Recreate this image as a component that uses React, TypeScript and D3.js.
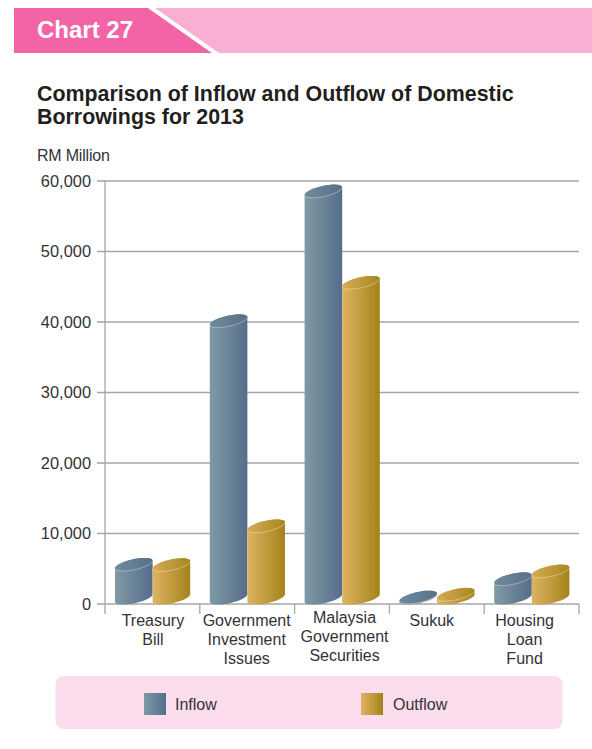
import React from "react";
import * as d3 from "d3";

const categories = [
  ["Treasury", "Bill"],
  ["Government", "Investment", "Issues"],
  ["Malaysia", "Government", "Securities"],
  ["Sukuk"],
  ["Housing", "Loan", "Fund"],
];
const inflow = [4750, 39300, 57700, 100, 2700];
const outflow = [4700, 10200, 44750, 500, 3800];
const yTicks = [0, 10000, 20000, 30000, 40000, 50000, 60000];
const seriesNames = ["Inflow", "Outflow"];

const W = 592, H = 749;
const FONT = "'Liberation Sans', Arial, sans-serif";
const TEXT = "#333236";

function cylinder(cx: number, topY: number, botY: number, a: number, b: number, k: number) {
  const pt = (cy: number, t: number): [number, number] => [cx + a * Math.cos(t), cy + b * Math.sin(t) - k * Math.cos(t)];
  const line = d3.line();
  const n = 32;
  const arc = (cy: number, from: number, to: number) =>
    d3.range(n + 1).map((i) => pt(cy, from + ((to - from) * i) / n));
  const frontBottom = arc(botY, Math.PI, 0);
  const backTop = arc(topY, 0, -Math.PI);
  const body = line([...frontBottom, ...backTop])! + "Z";
  const top = line(arc(topY, 0, Math.PI * 2))! + "Z";
  const frontTop = line(arc(topY, Math.PI, 0))!;
  return { body, top, frontTop };
}

export default function App() {
  const y = d3.scaleLinear().domain([0, 60000]).range([604, 181]);
  const x0 = d3.scaleBand<number>().domain(d3.range(categories.length)).range([105, 579]);
  const barW = 37.6;
  const inset = 10;
  const labelShift = [0.5, -0.5, 2.5, -5, -7];
  const labelFirst = [626, 626, 623, 626, 626];
  const zLift = 6;

  const bars = categories.flatMap((_, i) => [
    { key: `i${i}`, v: inflow[i], x: x0(i)! + inset, grad: "url(#gIn)", topGrad: "url(#gInTop)" },
    { key: `o${i}`, v: outflow[i], x: x0(i)! + inset + barW, grad: "url(#gOut)", topGrad: "url(#gOutTop)" },
  ]);

  return (
    <svg width={W} height={H} viewBox={`0 0 ${W} ${H}`} style={{ position: "absolute", left: 0, top: 0, background: "#fff" }} fontFamily={FONT}>
      <defs>
        <linearGradient id="gIn" x1="0" x2="1" y1="0" y2="0">
          <stop offset="0" stopColor="#7f9aa5" />
          <stop offset="1" stopColor="#566d8a" />
        </linearGradient>
        <linearGradient id="gOut" x1="0" x2="1" y1="0" y2="0">
          <stop offset="0" stopColor="#dfb362" />
          <stop offset="1" stopColor="#a4831a" />
        </linearGradient>
        <linearGradient id="gInTop" x1="0" x2="1" y1="0" y2="0">
          <stop offset="0" stopColor="#6f8a9b" />
          <stop offset="1" stopColor="#587089" />
        </linearGradient>
        <linearGradient id="gOutTop" x1="0" x2="1" y1="0" y2="0">
          <stop offset="0" stopColor="#d6ab55" />
          <stop offset="1" stopColor="#a8871f" />
        </linearGradient>
      </defs>

      <rect x={14} y={8} width={578} height={45} fill="#f8afd3" />
      <polygon points="14,8 148,8 212,53 14,53" fill="#f264a6" />
      <polygon points="148,8 155,8 219,53 212,53" fill="#fff" />
      <text x={37} y={37.5} fontSize={24} fontWeight={700} fill="#fff">Chart 27</text>

      <text x={37} y={101} fontSize={21.4} fontWeight={700} fill="#231f20">Comparison of Inflow and Outflow of Domestic</text>
      <text x={37} y={124} fontSize={21.4} fontWeight={700} fill="#231f20">Borrowings for 2013</text>
      <text x={37} y={161} fontSize={16} letterSpacing={-0.2} fill={TEXT}>RM Million</text>

      {yTicks.map((t) => (
        <g key={t}>
          <line x1={97} x2={579} y1={y(t)} y2={y(t)} stroke="#a6a6a6" strokeWidth={1.3} />
          <text x={91} y={y(t) + 5.5} fontSize={16.4} textAnchor="end" fill={TEXT}>{d3.format(",")(t)}</text>
        </g>
      ))}
      <line x1={105} x2={105} y1={181} y2={614} stroke="#a6a6a6" strokeWidth={1.3} />
      {categories.map((_, i) => (
        <line key={i} x1={x0(i)! + x0.bandwidth()} x2={x0(i)! + x0.bandwidth()} y1={604} y2={614} stroke="#a6a6a6" strokeWidth={1.3} />
      ))}

      {bars.map((b) => {
        const c = cylinder(b.x + barW / 2, y(b.v) - zLift, y(0) - zLift, barW / 2, 5.4, 3.8);
        return (
          <g key={b.key}>
            <path d={c.body} fill={b.grad} />
            <path d={c.top} fill={b.topGrad} />
            <path d={c.frontTop} fill="none" stroke="#fff" strokeOpacity={0.45} strokeWidth={0.8} />
          </g>
        );
      })}

      {categories.map((lines, i) => (
        <text key={i} fontSize={16} textAnchor="middle" fill={TEXT}>
          {lines.map((l, j) => (
            <tspan key={l} x={x0(i)! + x0.bandwidth() / 2 + labelShift[i]} y={labelFirst[i] + j * 19}>{l}</tspan>
          ))}
        </text>
      ))}

      <rect x={55.5} y={676} width={507} height={53} rx={8} fill="#fcdded" />
      {seriesNames.map((s, i) => {
        const sx = i === 0 ? 144 : 361;
        return (
          <g key={s}>
            <rect x={sx} y={693} width={22} height={22} fill={i === 0 ? "url(#gIn)" : "url(#gOut)"} />
            <text x={sx + (i === 0 ? 31 : 32)} y={709.5} fontSize={16} fill={TEXT}>{s}</text>
          </g>
        );
      })}
    </svg>
  );
}
